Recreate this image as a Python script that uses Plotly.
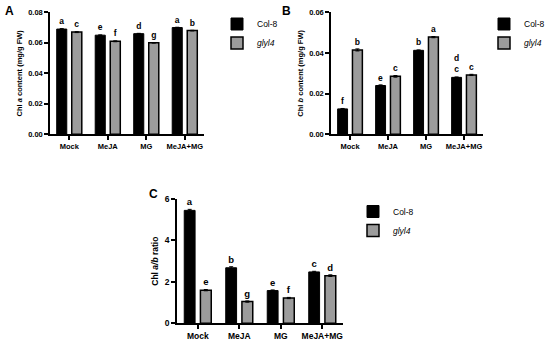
import plotly.graph_objects as go

categories = ["Mock", "MeJA", "MG", "MeJA+MG"]

# Panel A: Chl a content (mg/g FW)
a_col8 = [0.069, 0.065, 0.066, 0.070]
a_glyl4 = [0.067, 0.061, 0.060, 0.068]
a_col8_err = [0.0003, 0.0002, 0.0002, 0.0002]
a_glyl4_err = [0.0003, 0.0003, 0.0002, 0.0002]
a_col8_lbl = ["a", "e", "d", "a"]
a_glyl4_lbl = ["c", "f", "g", "b"]

# Panel B: Chl b content (mg/g FW)
b_col8 = [0.0125, 0.0240, 0.0413, 0.0280]
b_glyl4 = [0.0415, 0.0285, 0.0478, 0.0292]
b_col8_err = [0.0002, 0.0003, 0.0002, 0.0002]
b_glyl4_err = [0.0005, 0.0004, 0.0003, 0.0003]
b_col8_lbl = ["f", "e", "b", "d<br>c"]
b_glyl4_lbl = ["b", "c", "a", "c"]

# Panel C: Chl a/b ratio
c_col8 = [5.45, 2.68, 1.58, 2.48]
c_glyl4 = [1.60, 1.05, 1.22, 2.30]
c_col8_err = [0.05, 0.05, 0.03, 0.03]
c_glyl4_err = [0.03, 0.03, 0.03, 0.04]
c_col8_lbl = ["a", "b", "e", "c"]
c_glyl4_lbl = ["e", "g", "f", "d"]

FONT = "Arial"
GREY = "#9c9c9c"

fig = go.Figure()

panels = [
    ("x", "y", "legend", a_col8, a_glyl4, a_col8_err, a_glyl4_err, a_col8_lbl, a_glyl4_lbl, 8.5),
    ("x2", "y2", "legend2", b_col8, b_glyl4, b_col8_err, b_glyl4_err, b_col8_lbl, b_glyl4_lbl, 8.5),
    ("x3", "y3", "legend3", c_col8, c_glyl4, c_col8_err, c_glyl4_err, c_col8_lbl, c_glyl4_lbl, 9.5),
]

for xa, ya, lg, v1, v2, e1, e2, l1, l2, fs in panels:
    fig.add_trace(go.Bar(
        x=categories, y=v1, name="Col-8", xaxis=xa, yaxis=ya, legend=lg,
        marker=dict(color="black", line=dict(color="black", width=1)),
        error_y=dict(type="data", array=e1, color="black", thickness=1, width=2),
        text=l1, textposition="outside", cliponaxis=False,
        textfont=dict(family=FONT, size=fs, color="black", weight="bold"),
    ))
    fig.add_trace(go.Bar(
        x=categories, y=v2, name="<i>glyl4</i>", xaxis=xa, yaxis=ya, legend=lg,
        marker=dict(color=GREY, line=dict(color="black", width=1.5)),
        error_y=dict(type="data", array=e2, color="black", thickness=1, width=2),
        text=l2, textposition="outside", cliponaxis=False,
        textfont=dict(family=FONT, size=fs, color="black", weight="bold"),
    ))

W, H = 550, 344

def xd(p0, p1):
    return [p0 / W, p1 / W]

def yd(top, bottom):
    return [1 - bottom / H, 1 - top / H]

def axstyle(size):
    return dict(showline=True, linecolor="black", linewidth=1.5, ticks="outside",
                ticklen=4, tickwidth=1.5, tickcolor="black", showgrid=False, zeroline=False,
                tickfont=dict(family=FONT, size=size, color="black", weight="bold"))

legfont = dict(family=FONT, size=8.5, color="black")

fig.update_layout(
    width=W, height=H,
    margin=dict(l=0, r=0, t=0, b=0, autoexpand=False),
    paper_bgcolor="white", plot_bgcolor="white",
    barmode="group", bargap=0.22, bargroupgap=0.33,
    font=dict(family=FONT, color="black"),
    xaxis=dict(domain=xd(50, 204), anchor="y", **axstyle(7.5)),
    yaxis=dict(domain=yd(12.3, 134.3), anchor="x", range=[0, 0.08], dtick=0.02,
               tickformat=".2f",
               title=dict(text="Chl <i>a</i> content (mg/g FW)",
                          font=dict(family=FONT, size=7.5, weight="bold"), standoff=5),
               **axstyle(7.5)),
    xaxis2=dict(domain=xd(331, 483), anchor="y2", **axstyle(7.5)),
    yaxis2=dict(domain=yd(12.3, 134.3), anchor="x2", range=[0, 0.06], dtick=0.02,
                tickformat=".2f",
                title=dict(text="Chl <i>b</i> content (mg/g FW)",
                           font=dict(family=FONT, size=7.5, weight="bold"), standoff=5),
                **axstyle(7.5)),
    xaxis3=dict(domain=xd(177, 343), anchor="y3", **axstyle(8.5)),
    yaxis3=dict(domain=yd(199, 323.3), anchor="x3", range=[0, 6], dtick=2,
                title=dict(text="Chl <i>a/b</i> ratio",
                           font=dict(family=FONT, size=8.5, weight="bold"), standoff=5),
                **axstyle(8.5)),
    legend=dict(x=217 / W, y=1 - 9.5 / H, xanchor="left", yanchor="top",
                font=legfont, bgcolor="rgba(0,0,0,0)"),
    legend2=dict(x=1, y=1 - 9.5 / H, xanchor="right", yanchor="top",
                 font=legfont, bgcolor="rgba(0,0,0,0)"),
    legend3=dict(x=353 / W, y=1 - 197 / H, xanchor="left", yanchor="top",
                 font=legfont, bgcolor="rgba(0,0,0,0)"),
    annotations=[
        dict(text="<b>A</b>", x=3 / W, y=1 - 11 / H, xref="paper", yref="paper",
             showarrow=False, xanchor="left", yanchor="middle", font=dict(size=12, family=FONT)),
        dict(text="<b>B</b>", x=280 / W, y=1 - 11 / H, xref="paper", yref="paper",
             showarrow=False, xanchor="left", yanchor="middle", font=dict(size=12, family=FONT)),
        dict(text="<b>C</b>", x=147 / W, y=1 - 194 / H, xref="paper", yref="paper",
             showarrow=False, xanchor="left", yanchor="middle", font=dict(size=12, family=FONT)),
    ],
)

fig.write_html("out.html", config={"displayModeBar": False},
               post_script="document.body.style.margin='0';")
